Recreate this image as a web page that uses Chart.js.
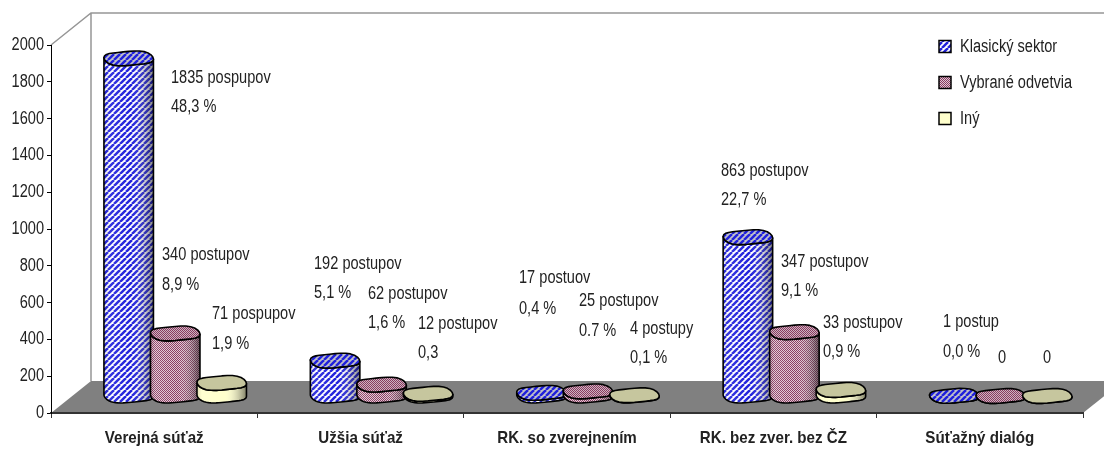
<!DOCTYPE html>
<html>
<head>
<meta charset="utf-8">
<style>
html, body { margin: 0; padding: 0; background: #fff; }
#wrap { position: relative; width: 1104px; height: 449px; }
</style>
<script src="https://cdn.jsdelivr.net/npm/chart.js@4"></script>
</head>
<body>
<div id="wrap"><canvas id="myChart" width="1104" height="449"></canvas></div>
<script>
const categories = ['Verejná súťaž', 'Užšia súťaž', 'RK. so zverejnením', 'RK. bez zver. bez ČZ', 'Súťažný dialóg'];
const seriesNames = ['Klasický sektor', 'Vybrané odvetvia', 'Iný'];
const klasicky = [1835, 192, 17, 863, 1];
const vybrane = [340, 62, 25, 347, 0];
const iny = [71, 12, 4, 33, 0];
const yTicks = [0, 200, 400, 600, 800, 1000, 1200, 1400, 1600, 1800, 2000];

const notesKlasicky = [['1835 pospupov', '48,3 %'], ['192 postupov', '5,1 %'], ['17 postuov', '0,4 %'], ['863 postupov', '22,7 %'], ['1 postup', '0,0 %']];
const notesVybrane = [['340 postupov', '8,9 %'], ['62 postupov', '1,6 %'], ['25 postupov', '0.7 %'], ['347 postupov', '9,1 %'], ['0']];
const notesIny = [['71 pospupov', '1,9 %'], ['12 postupov', '0,3'], ['4 postupy', '0,1 %'], ['33 postupov', '0,9 %'], ['0']];

// where the hand placed notes sit on the page: left edge, first line middle, second line middle
const spotsKlasicky = [[171, 78, 107], [314, 264, 293], [519, 278, 309], [721, 171, 200], [943, 322, 352]];
const spotsVybrane = [[162, 255, 285], [368, 294, 323], [579, 301, 331], [781, 262, 291], [998, 358]];
const spotsIny = [[212, 314, 344], [418, 324, 353], [630, 329, 358], [823, 323, 352], [1043, 358]];

const DEPTH_X = 40;
const DEPTH_Y = 32;
const BAR_SHIFT = 21;
const BASE_LIFT = 17;
const RY = 7.5;
const FONT = '"Liberation Sans", sans-serif';

function stripePattern(fg, bg) {
    const c = document.createElement('canvas');
    c.width = 6; c.height = 6;
    const g = c.getContext('2d');
    g.fillStyle = bg;
    g.fillRect(0, 0, 6, 6);
    g.strokeStyle = fg;
    g.lineWidth = 2.5;
    for (let i = -6; i <= 12; i += 6) {
        g.beginPath();
        g.moveTo(i, 6);
        g.lineTo(i + 6, 0);
        g.stroke();
    }
    return g.createPattern(c, 'repeat');
}

function dotPattern(fg, bg) {
    const c = document.createElement('canvas');
    c.width = 2; c.height = 2;
    const g = c.getContext('2d');
    g.fillStyle = bg;
    g.fillRect(0, 0, 2, 2);
    g.fillStyle = fg;
    g.fillRect(0, 0, 1, 1);
    g.fillRect(1, 1, 1, 1);
    return g.createPattern(c, 'repeat');
}

const sideFills = [stripePattern('#2020dc', '#ffffff'), dotPattern('#8a3a60', '#e0c8d4'), '#ffffcc'];
const topFills = [stripePattern('#2020dc', '#c0c0c8'), dotPattern('#8a3a60', '#ccb4c0'), '#c6c69e'];
const noteSets = [notesKlasicky, notesVybrane, notesIny];
const spotSets = [spotsKlasicky, spotsVybrane, spotsIny];

const ctx = document.getElementById('myChart').getContext('2d');

// the original uses tall squeezed lettering, no narrow font here so squeeze every text call
const plainFillText = ctx.fillText;
ctx.fillText = function (text, x, y) {
    this.save();
    this.translate(x, y);
    this.scale(this.font.includes('bold') ? 0.89 : 0.81, 1);
    plainFillText.call(this, text, 0, 0);
    this.restore();
};

// slightly lumpy rim like the low res original
function rimY(y, angle) {
    return y + RY * Math.sin(angle) + 0.9 * Math.sin(3 * angle + 1);
}

function rimPath(c, x, y, rx, from, to) {
    const steps = 28;
    for (let i = 0; i <= steps; i++) {
        const a = from + (to - from) * i / steps;
        c.lineTo(x + rx * Math.cos(a), rimY(y, a));
    }
}

function drawCylinder(c, x, yTop, yBase, rx, side, top) {
    c.lineJoin = 'round';
    c.beginPath();
    rimPath(c, x, yTop, rx, Math.PI, Math.PI);
    rimPath(c, x, yBase, rx, Math.PI, 0);
    rimPath(c, x, yTop, rx, 0, Math.PI);
    c.closePath();
    c.fillStyle = side;
    c.fill();
    const shade = c.createLinearGradient(x - rx, 0, x + rx, 0);
    shade.addColorStop(0, 'rgba(0,0,0,0.12)');
    shade.addColorStop(0.1, 'rgba(255,255,255,0.1)');
    shade.addColorStop(0.55, 'rgba(255,255,255,0)');
    shade.addColorStop(1, 'rgba(0,0,0,0.5)');
    c.fillStyle = shade;
    c.fill();
    c.strokeStyle = '#000';
    c.lineWidth = 1.6;
    c.stroke();

    c.beginPath();
    rimPath(c, x, yTop, rx, 0, Math.PI * 2);
    c.closePath();
    c.fillStyle = top;
    c.fill();
    c.stroke();
}

const scenePlugin = {
    id: 'scene',
    afterLayout(chart) {
        chart.legend.left = 921;
        chart.legend.top = 19.6;
    },
    // walls and floor of the fake 3d box
    beforeDraw(chart) {
        const c = chart.ctx;
        const a = chart.chartArea;
        c.save();
        c.fillStyle = '#808080';
        c.beginPath();
        c.moveTo(a.left, a.bottom);
        c.lineTo(a.left + DEPTH_X, a.bottom - DEPTH_Y);
        c.lineTo(a.right + DEPTH_X, a.bottom - DEPTH_Y);
        c.lineTo(a.right, a.bottom);
        c.closePath();
        c.fill();
        c.strokeStyle = '#969696';
        c.lineWidth = 1.5;
        c.beginPath();
        c.moveTo(a.left, a.top);
        c.lineTo(a.left + DEPTH_X, a.top - DEPTH_Y);
        c.lineTo(chart.width, a.top - DEPTH_Y);
        c.moveTo(a.left + DEPTH_X, a.top - DEPTH_Y);
        c.lineTo(a.left + DEPTH_X, a.bottom - DEPTH_Y);
        c.stroke();
        c.restore();
    },
    // the flat bars are swapped for cylinders below
    beforeDatasetDraw() {
        return false;
    },
    afterDatasetsDraw(chart) {
        const c = chart.ctx;
        c.save();
        chart.data.datasets.forEach((ds, i) => {
            chart.getDatasetMeta(i).data.forEach((el) => {
                drawCylinder(c, el.x + BAR_SHIFT, el.y - BASE_LIFT, el.base - BASE_LIFT, el.width / 2 + 1.5, sideFills[i], topFills[i]);
            });
        });
        c.font = '18px ' + FONT;
        c.fillStyle = '#222';
        c.textAlign = 'left';
        c.textBaseline = 'middle';
        noteSets.forEach((notes, i) => {
            notes.forEach((lines, j) => {
                lines.forEach((line, k) => {
                    c.fillText(line, spotSets[i][j][0], spotSets[i][j][k + 1]);
                });
            });
        });
        c.restore();
    }
};

const myChart = new Chart(ctx, {
    type: 'bar',
    data: {
        labels: categories,
        datasets: [
            { label: seriesNames[0], data: klasicky, backgroundColor: sideFills[0], borderColor: '#000', borderWidth: 1.5 },
            { label: seriesNames[1], data: vybrane, backgroundColor: sideFills[1], borderColor: '#000', borderWidth: 1.5 },
            { label: seriesNames[2], data: iny, backgroundColor: sideFills[2], borderColor: '#000', borderWidth: 1.5 }
        ]
    },
    options: {
        responsive: false,
        animation: false,
        categoryPercentage: 0.676,
        barPercentage: 1,
        layout: { padding: { top: 45, right: 21, left: 0, bottom: 0 } },
        plugins: {
            tooltip: { enabled: false },
            legend: {
                position: 'chartArea',
                align: 'start',
                labels: {
                    boxWidth: 12,
                    boxHeight: 12,
                    padding: 18,
                    color: '#222',
                    font: { family: FONT, size: 18 }
                }
            }
        },
        scales: {
            x: {
                grid: { drawOnChartArea: false, drawTicks: true, tickLength: 5, color: '#333' },
                border: { color: '#333', width: 2 },
                ticks: { color: '#222', padding: 10, maxRotation: 0, font: { family: FONT, size: 17, weight: 'bold' } },
                afterFit(scale) { scale.height = 36; }
            },
            y: {
                min: 0,
                max: 2000,
                afterBuildTicks(scale) { scale.ticks = yTicks.map((v) => ({ value: v })); },
                grid: { drawOnChartArea: false, tickLength: 4, color: '#000' },
                border: { color: '#000', width: 1 },
                ticks: { color: '#222', padding: 3, font: { family: FONT, size: 18 }, callback: (v) => String(v) },
                afterFit(scale) { scale.width = 51; }
            }
        }
    },
    plugins: [scenePlugin]
});
</script>
</body>
</html>
